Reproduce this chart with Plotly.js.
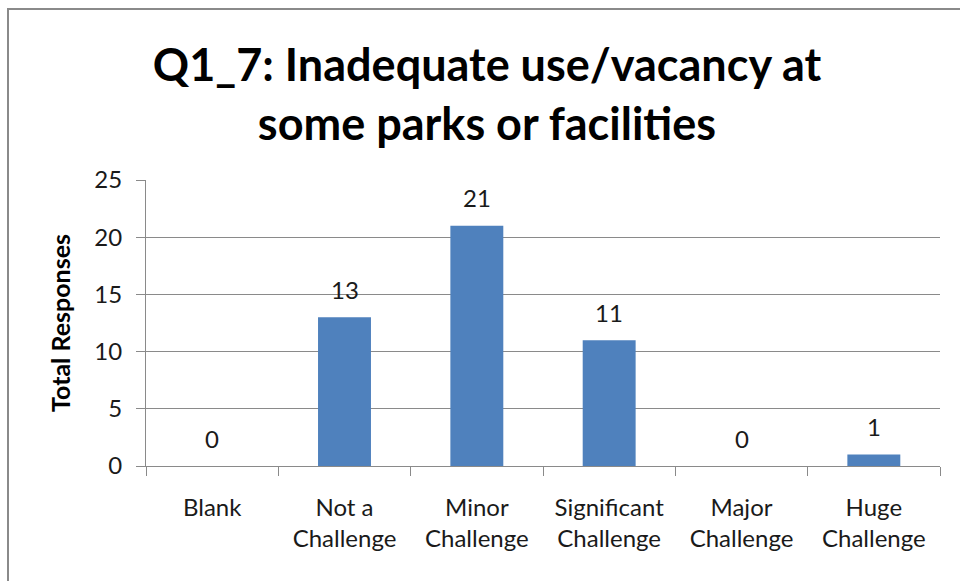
<!DOCTYPE html>
<html>
<head>
<meta charset="utf-8">
<script src="https://cdn.plot.ly/plotly-3.0.1.min.js"></script>
<style>
  html, body { margin: 0; padding: 0; background: #fff; }
  #wrap { position: relative; width: 960px; height: 581px; overflow: hidden; }
  #chart { position: absolute; left: 0; top: 0; width: 960px; height: 581px; }
  #frame { position: absolute; left: 7px; top: 8px; width: 1000px; height: 600px;
           border-left: 2px solid #8a8a8a; border-top: 2px solid #8a8a8a; pointer-events: none; }
</style>
</head>
<body>
<div id="wrap">
  <div id="chart"></div>
  <div id="frame"></div>
</div>
<script>
const categories = ["Blank", "Not a Challenge", "Minor Challenge", "Significant Challenge", "Major Challenge", "Huge Challenge"];
const tickLabels = ["Blank", "Not a<br>Challenge", "Minor<br>Challenge", "Significant<br>Challenge", "Major<br>Challenge", "Huge<br>Challenge"];
const responses = [0, 13, 21, 11, 0, 1];
const yTicks = [0, 5, 10, 15, 20, 25];

const FONT = "Lato, 'Open Sans', sans-serif";

const trace = {
  type: "bar",
  x: categories,
  y: responses,
  marker: { color: "#4f81bd", line: { width: 0 } },
  width: 0.4,
  hoverinfo: "x+y"
};

const annotations = categories.map((c, i) => ({
  x: c, y: responses[i], xref: "x", yref: "y",
  text: String(responses[i]), showarrow: false,
  yanchor: "middle", yshift: 28,
  font: { family: FONT, size: 24, color: "#1a1a1a" }
}));

const layout = {
  width: 960, height: 581,
  margin: { l: 146, r: 20, t: 180, b: 115 },
  paper_bgcolor: "#ffffff",
  plot_bgcolor: "#ffffff",
  showlegend: false,
  title: {
    text: "Q1_7: Inadequate use/vacancy at<br>some parks or facilities",
    xref: "container", x: 487 / 960, xanchor: "center",
    yref: "container", y: 0.86, yanchor: "top",
    font: { family: FONT, size: 45, color: "#000000", weight: "bold" }
  },
  xaxis: {
    type: "category",
    tickvals: categories,
    ticktext: tickLabels,
    tickson: "boundaries",
    ticks: "outside", ticklen: 9, tickcolor: "#8a8a8a", tickwidth: 1,
    showline: true, linecolor: "#8a8a8a", linewidth: 1,
    showgrid: false, zeroline: false,
    tickfont: { family: FONT, size: 24, color: "#1a1a1a" },
    ticklabelstandoff: 20,
    fixedrange: true
  },
  yaxis: {
    range: [0, 25],
    tickvals: yTicks,
    ticks: "outside", ticklen: 9, tickcolor: "#8a8a8a", tickwidth: 1,
    showline: true, linecolor: "#8a8a8a", linewidth: 1,
    showgrid: true, gridcolor: "#8a8a8a", gridwidth: 1,
    zeroline: false,
    tickfont: { family: FONT, size: 24, color: "#1a1a1a" },
    ticklabelstandoff: 9,
    title: {
      text: "Total Responses",
      standoff: 16,
      font: { family: FONT, size: 25, color: "#000000", weight: "bold" }
    },
    automargin: false,
    fixedrange: true
  },
  annotations: annotations
};

Plotly.newPlot("chart", [trace], layout, { displayModeBar: false, staticPlot: true });
</script>
</body>
</html>
